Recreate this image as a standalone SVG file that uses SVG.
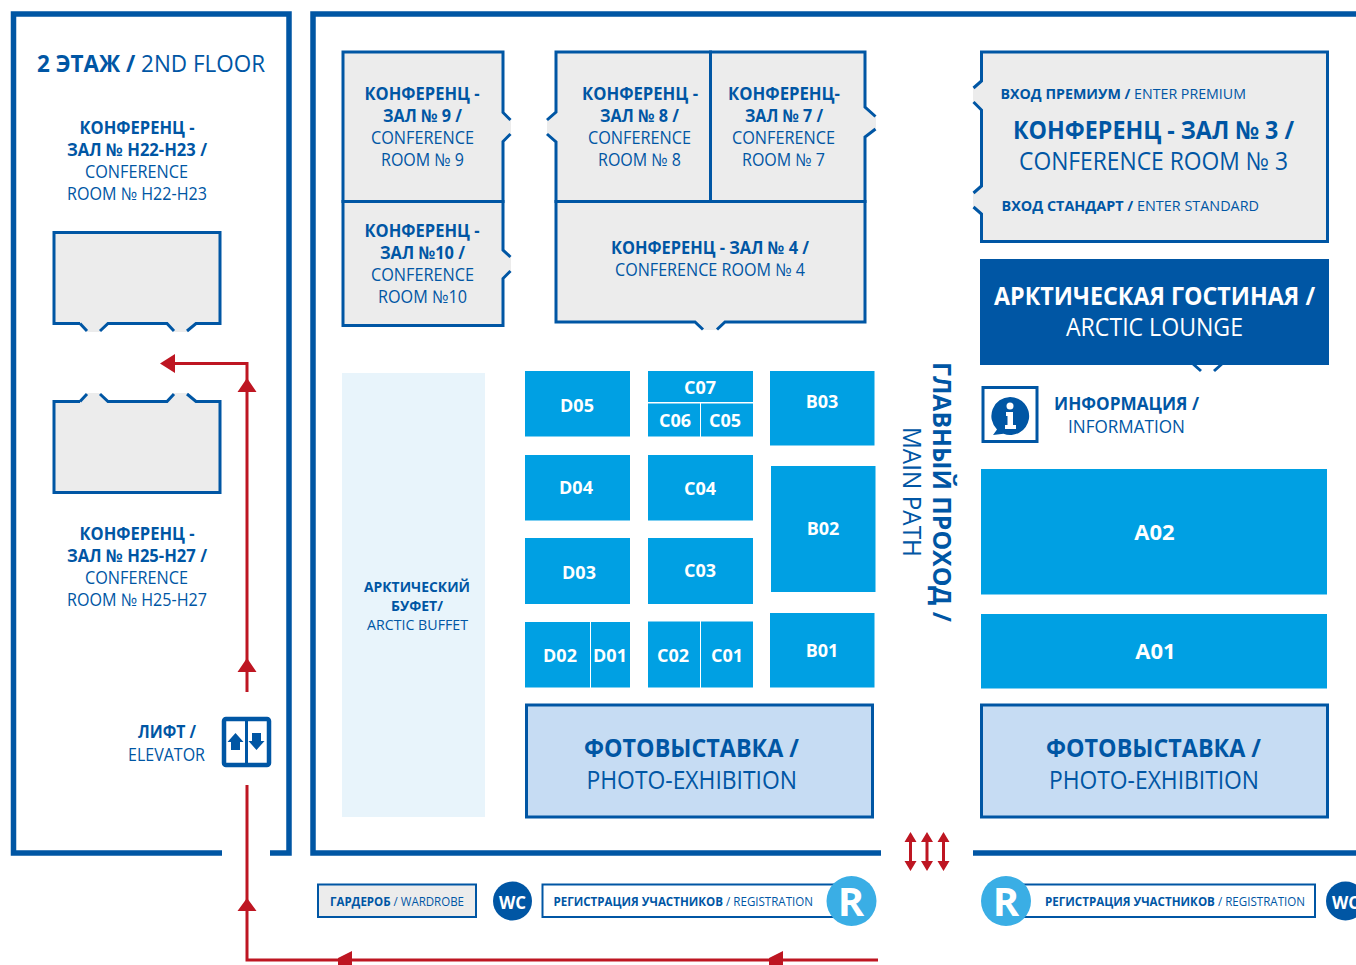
<svg xmlns="http://www.w3.org/2000/svg" width="1356" height="965" viewBox="0 0 1356 965">
<style>
text{font-family:"Open Sans","Noto Sans","Liberation Sans",sans-serif;fill:#0056a4}
.b{font-weight:700}
.w{fill:#fff}
.room{fill:#ececec}
.wall{fill:none;stroke:#0056a4;stroke-width:3}
.outer{fill:none;stroke:#0056a4;stroke-width:5.5}
.booth{fill:#00a0e3}
.photo{fill:#c6dcf3;stroke:#0056a4;stroke-width:3}
.red{fill:none;stroke:#be1622;stroke-width:3}
.head{fill:#be1622}
.bl{font-size:18px;font-weight:700;fill:#fff;text-anchor:middle}
.s18{font-size:17.5px}.s12{font-size:12px}.s25{font-size:25px}
</style>
<rect width="1356" height="965" fill="#fff"/>
<g id="walls">
<path class="outer" d="M222 853H13.500V14H289V853H270"/>
<path class="outer" d="M881 853H313V14H1356"/>
<path class="outer" d="M973 853H1356"/>
</g>
<g id="floor2-title"><text y="72" x="37" font-size="24" textLength="228" lengthAdjust="spacingAndGlyphs"><tspan class="b">2 ЭТАЖ /</tspan> 2ND FLOOR</text></g>
<g id="room-h22">
<path class="room" d="M54 231H221V324H196L187 332H174L167 324H108L100 332H87L80 324H54Z"/>
<path class="wall" d="M80 323.500H54V232.500H220V323.500H196L187 331M174 331L167 323.500H108L100 331M87 331L80 323.500"/>
<text class="b s18" x="79.500" y="134" textLength="115" lengthAdjust="spacingAndGlyphs">КОНФЕРЕНЦ -</text>
<text class="b s18" x="67" y="156" textLength="140" lengthAdjust="spacingAndGlyphs">ЗАЛ № H22-H23 /</text>
<text class="s18" x="85" y="178" textLength="103" lengthAdjust="spacingAndGlyphs">CONFERENCE</text>
<text class="s18" x="67" y="200" textLength="140" lengthAdjust="spacingAndGlyphs">ROOM № H22-H23</text>
</g>
<g id="room-h25">
<path class="room" d="M54 401H80L87 393H100L108 401H167L174 393H187L196 401H221V493H54Z"/>
<path class="wall" d="M80 401.500H54V492.500H220V401.500H196L187 394M174 394L167 401.500H108L100 394M87 394L80 401.500"/>
<text class="b s18" x="79.500" y="540" textLength="115" lengthAdjust="spacingAndGlyphs">КОНФЕРЕНЦ -</text>
<text class="b s18" x="67" y="562" textLength="140" lengthAdjust="spacingAndGlyphs">ЗАЛ № H25-H27 /</text>
<text class="s18" x="85" y="584" textLength="103" lengthAdjust="spacingAndGlyphs">CONFERENCE</text>
<text class="s18" x="67" y="606" textLength="140" lengthAdjust="spacingAndGlyphs">ROOM № H25-H27</text>
</g>
<g id="room-9">
<path class="room" d="M342 51H504V112L511 120V134L504 142V202H342Z"/>
<path class="wall" d="M510.500 120L503 112.500V52H343V201.500H503V141.500L510.500 134"/>
<text class="b s18" x="364.500" y="100" textLength="115" lengthAdjust="spacingAndGlyphs">КОНФЕРЕНЦ -</text>
<text class="b s18" x="383" y="122" textLength="79" lengthAdjust="spacingAndGlyphs">ЗАЛ № 9 /</text>
<text class="s18" x="371" y="144" textLength="103" lengthAdjust="spacingAndGlyphs">CONFERENCE</text>
<text class="s18" x="381" y="166" textLength="83" lengthAdjust="spacingAndGlyphs">ROOM № 9</text>
</g>
<g id="room-10">
<path class="room" d="M342 201H504V250L511 257V271L504 278V327H342Z"/>
<path class="wall" d="M510.500 257L503 250V201.500H343V325.500H503V278.500L510.500 271"/>
<text class="b s18" x="364.500" y="237" textLength="115" lengthAdjust="spacingAndGlyphs">КОНФЕРЕНЦ -</text>
<text class="b s18" x="380" y="259" textLength="85" lengthAdjust="spacingAndGlyphs">ЗАЛ №10 /</text>
<text class="s18" x="371" y="281" textLength="103" lengthAdjust="spacingAndGlyphs">CONFERENCE</text>
<text class="s18" x="378" y="303" textLength="89" lengthAdjust="spacingAndGlyphs">ROOM №10</text>
</g>
<g id="room-8">
<path class="room" d="M556 51H711V202H556V142L547 134V120L556 112Z"/>
<path class="wall" d="M547 120L556 112V52H710.500V201.500H556V142L547 134"/>
<text class="b s18" x="582" y="100" textLength="116" lengthAdjust="spacingAndGlyphs">КОНФЕРЕНЦ -</text>
<text class="b s18" x="600" y="122" textLength="79" lengthAdjust="spacingAndGlyphs">ЗАЛ № 8 /</text>
<text class="s18" x="588" y="144" textLength="103" lengthAdjust="spacingAndGlyphs">CONFERENCE</text>
<text class="s18" x="598" y="166" textLength="83" lengthAdjust="spacingAndGlyphs">ROOM № 8</text>
</g>
<g id="room-7">
<path class="room" d="M711 51H866V107L876 116V129L866 137V202H711Z"/>
<path class="wall" d="M875.500 116.500L865 107V52H710.500V201.500H865V137L875.500 129"/>
<text class="b s18" x="728" y="100" textLength="112" lengthAdjust="spacingAndGlyphs">КОНФЕРЕНЦ-</text>
<text class="b s18" x="745" y="122" textLength="78" lengthAdjust="spacingAndGlyphs">ЗАЛ № 7 /</text>
<text class="s18" x="732" y="144" textLength="103" lengthAdjust="spacingAndGlyphs">CONFERENCE</text>
<text class="s18" x="742" y="166" textLength="83" lengthAdjust="spacingAndGlyphs">ROOM № 7</text>
</g>
<g id="room-4">
<path class="room" d="M556 201H866V323H725L717 330H703L695 323H556Z"/>
<path class="wall" d="M703 329.500L695 322H556V201.500H865V322H725L717 329.500"/>
<text class="b s18" x="611" y="254" textLength="198" lengthAdjust="spacingAndGlyphs">КОНФЕРЕНЦ - ЗАЛ № 4 /</text>
<text class="s18" x="615" y="276" textLength="190" lengthAdjust="spacingAndGlyphs">CONFERENCE ROOM № 4</text>
</g>
<g id="room-3">
<path class="room" d="M981 51H1329V243H981V214L973 207V193L981 186V110L973 102V88L981 81Z"/>
<path class="wall" d="M973.500 88L981.500 81V52H1327.500V241.500H981.500V214L973.500 207M973.500 193L981.500 186V110L973.500 102"/>
<text x="1000.500" y="99" font-size="15" textLength="245.500" lengthAdjust="spacingAndGlyphs"><tspan class="b">ВХОД ПРЕМИУМ /</tspan> ENTER PREMIUM</text>
<text class="b s25" x="1013" y="139" textLength="281" lengthAdjust="spacingAndGlyphs">КОНФЕРЕНЦ - ЗАЛ № 3 /</text>
<text class="s25" x="1019" y="170" textLength="269" lengthAdjust="spacingAndGlyphs">CONFERENCE ROOM № 3</text>
<text x="1001.500" y="211" font-size="15" textLength="257.500" lengthAdjust="spacingAndGlyphs"><tspan class="b">ВХОД СТАНДАРТ /</tspan> ENTER STANDARD</text>
</g>
<g id="arctic-lounge">
<rect x="980" y="259" width="349" height="106" fill="#0056a4"/>
<path class="wall" d="M1192 363L1201 371M1214 371L1223 363"/>
<text class="b s25 w" x="994" y="305" textLength="321" lengthAdjust="spacingAndGlyphs">АРКТИЧЕСКАЯ ГОСТИНАЯ /</text>
<text class="s25 w" x="1066" y="336" textLength="177" lengthAdjust="spacingAndGlyphs">ARCTIC LOUNGE</text>
</g>
<g id="information">
<rect class="wall" x="983" y="387.500" width="54" height="54" fill="#fff"/>
<path fill="#0056a4" d="M1010 397a19 19 0 1 1-6.500 36.800L993 435L997 429.500A19 19 0 0 1 1010 397Z"/>
<circle cx="1010" cy="406" r="3.500" fill="#fff"/>
<path fill="#fff" d="M1006 412H1013V425H1016V429H1005V425H1007.500V416H1006Z"/>
<text class="b s18" x="1054" y="410" textLength="145" lengthAdjust="spacingAndGlyphs">ИНФОРМАЦИЯ /</text>
<text class="s18" x="1068" y="433" textLength="117" lengthAdjust="spacingAndGlyphs">INFORMATION</text>
</g>
<g id="arctic-buffet">
<rect x="342" y="373" width="143" height="444" fill="#e8f4fb"/>
<text class="b" font-size="14.500" x="364" y="592" textLength="106" lengthAdjust="spacingAndGlyphs">АРКТИЧЕСКИЙ</text>
<text class="b" font-size="14.500" x="391" y="611" textLength="52" lengthAdjust="spacingAndGlyphs">БУФЕТ/</text>
<text font-size="14.500" x="367" y="630" textLength="101" lengthAdjust="spacingAndGlyphs">ARCTIC BUFFET</text>
</g>
<g id="D05"><rect class="booth" x="525" y="371" width="105" height="65.500"/><text class="bl" x="577" y="412">D05</text></g>
<g id="C07"><rect class="booth" x="648" y="371" width="105" height="31"/><text class="bl" x="700" y="394">C07</text></g>
<g id="C06"><rect class="booth" x="648" y="403.500" width="52" height="33"/><text class="bl" x="675" y="427">C06</text></g>
<g id="C05"><rect class="booth" x="701" y="403.500" width="52" height="33"/><text class="bl" x="725" y="427">C05</text></g>
<g id="B03"><rect class="booth" x="770" y="371" width="104.500" height="74.500"/><text class="bl" x="822" y="408">B03</text></g>
<g id="D04"><rect class="booth" x="525" y="455" width="105" height="65.500"/><text class="bl" x="576" y="494">D04</text></g>
<g id="C04"><rect class="booth" x="648" y="455" width="105" height="65.500"/><text class="bl" x="700" y="495">C04</text></g>
<g id="B02"><rect class="booth" x="771" y="466" width="104.500" height="126"/><text class="bl" x="823" y="535">B02</text></g>
<g id="D03"><rect class="booth" x="525" y="538" width="105" height="66"/><text class="bl" x="579" y="579">D03</text></g>
<g id="C03"><rect class="booth" x="648" y="538" width="105" height="66"/><text class="bl" x="700" y="577">C03</text></g>
<g id="D02"><rect class="booth" x="525" y="622" width="65" height="65.500"/><text class="bl" x="560" y="662">D02</text></g>
<g id="D01"><rect class="booth" x="591" y="622" width="39" height="65.500"/><text class="bl" x="610" y="662">D01</text></g>
<g id="C02"><rect class="booth" x="648" y="621.500" width="52" height="66"/><text class="bl" x="673" y="662">C02</text></g>
<g id="C01"><rect class="booth" x="701" y="621.500" width="52" height="66"/><text class="bl" x="727" y="662">C01</text></g>
<g id="B01"><rect class="booth" x="770" y="613" width="104.500" height="74.500"/><text class="bl" x="822" y="657">B01</text></g>
<g id="A02"><rect class="booth" x="981" y="469" width="346" height="125.500"/><text class="bl" style="font-size:22px" x="1154.500" y="540">A02</text></g>
<g id="A01"><rect class="booth" x="981" y="614" width="346" height="74.500"/><text class="bl" style="font-size:22px" x="1155.500" y="659">A01</text></g>
<g id="photo-1">
<rect class="photo" x="526.500" y="705" width="346" height="112"/>
<text class="b s25" x="584" y="757" textLength="215" lengthAdjust="spacingAndGlyphs">ФОТОВЫСТАВКА /</text>
<text class="s25" x="586.500" y="789" textLength="210.500" lengthAdjust="spacingAndGlyphs">PHOTO-EXHIBITION</text>
</g>
<g id="photo-2">
<rect class="photo" x="981.500" y="705" width="346" height="112"/>
<text class="b s25" x="1046" y="757" textLength="215" lengthAdjust="spacingAndGlyphs">ФОТОВЫСТАВКА /</text>
<text class="s25" x="1049" y="789" textLength="210" lengthAdjust="spacingAndGlyphs">PHOTO-EXHIBITION</text>
</g>
<g id="main-path">
<text class="b s25" transform="translate(933 362) rotate(90)" textLength="260" lengthAdjust="spacingAndGlyphs">ГЛАВНЫЙ ПРОХОД /</text>
<text class="s25" transform="translate(902.500 427) rotate(90)" textLength="130" lengthAdjust="spacingAndGlyphs">MAIN PATH</text>
</g>
<g id="elevator">
<text class="b s18" x="138" y="738" textLength="58" lengthAdjust="spacingAndGlyphs">ЛИФТ /</text>
<text class="s18" x="128" y="761" textLength="77" lengthAdjust="spacingAndGlyphs">ELEVATOR</text>
<rect x="224" y="719" width="45" height="46" rx="2" fill="#fff" stroke="#0056a4" stroke-width="4.500"/>
<path d="M246.500 719V765" stroke="#0056a4" stroke-width="3"/>
<path fill="#0056a4" d="M235.500 733L243.500 742H240V750H231V742H227.500ZM256.500 750L248.500 741H252V733H261V741H264.500Z"/>
</g>
<g id="wardrobe">
<rect x="318" y="884.500" width="158" height="32.500" fill="#ececec" stroke="#0056a4" stroke-width="2"/>
<text class="s12" x="330" y="906" textLength="134" lengthAdjust="spacingAndGlyphs"><tspan class="b">ГАРДЕРОБ</tspan> / WARDROBE</text>
</g>
<g id="wc-1"><circle cx="512.500" cy="901" r="19.500" fill="#0056a4"/><text class="b w" font-size="18" x="499" y="909" textLength="27" lengthAdjust="spacingAndGlyphs">WC</text></g>
<g id="registration-1">
<rect x="542.500" y="884.500" width="295" height="32.500" fill="#fff" stroke="#0056a4" stroke-width="2"/>
<text class="s12" x="553.500" y="906" textLength="259.500" lengthAdjust="spacingAndGlyphs"><tspan class="b">РЕГИСТРАЦИЯ УЧАСТНИКОВ</tspan> / REGISTRATION</text>
<circle cx="851.500" cy="901" r="25" fill="#3aaee5"/>
<text class="b w" font-size="40" x="851" y="916" text-anchor="middle">R</text>
</g>
<g id="registration-2">
<rect x="1020" y="884.500" width="295" height="32.500" fill="#fff" stroke="#0056a4" stroke-width="2"/>
<text class="s12" x="1045" y="906" textLength="260" lengthAdjust="spacingAndGlyphs"><tspan class="b">РЕГИСТРАЦИЯ УЧАСТНИКОВ</tspan> / REGISTRATION</text>
<circle cx="1006" cy="901" r="25" fill="#3aaee5"/>
<text class="b w" font-size="40" x="1006" y="916" text-anchor="middle">R</text>
</g>
<g id="wc-2"><circle cx="1345.500" cy="901" r="19.500" fill="#0056a4"/><text class="b w" font-size="18" x="1332" y="909" textLength="27" lengthAdjust="spacingAndGlyphs">WC</text></g>
<g id="connectors">
<path class="red" d="M247 692V363.500H172"/>
<path class="red" d="M247 785V960H878"/>
<path class="head" d="M160 363.500L175 354V373ZM247 378L256.500 392H237.500ZM247 658L256.500 672H237.500ZM247 898L256.500 911H237.500ZM338 958L352 951V965H338ZM769 958L783 951V965H769Z"/>
<path class="red" d="M910.500 838V866M927 838V866M943.500 838V866"/>
<path class="head" d="M910.500 832L916.500 842H904.500ZM910.500 871L916.500 861H904.500ZM927 832L933 842H921ZM927 871L933 861H921ZM943.500 832L949.500 842H937.500ZM943.500 871L949.500 861H937.500Z"/>
</g>
</svg>
